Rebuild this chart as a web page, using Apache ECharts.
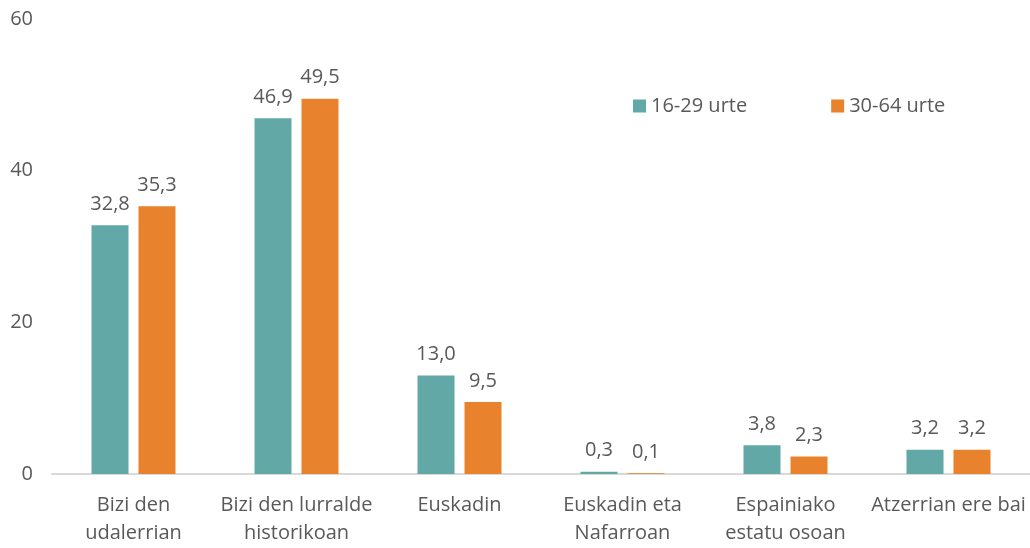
<!DOCTYPE html>
<html><head><meta charset="utf-8">
<script src="https://cdn.jsdelivr.net/npm/echarts@6/dist/echarts.min.js"></script>
<style>html,body{margin:0;padding:0;background:#fff}#c{width:1030px;height:548px}</style>
</head><body><div id="c"></div>
<script>
const categories = ['Bizi den\nudalerrian','Bizi den lurralde\nhistorikoan','Euskadin','Euskadin eta\nNafarroan','Espainiako\nestatu osoan','Atzerrian ere bai'];
const seriesNames = ['16-29 urte','30-64 urte'];
const young = [32.8, 46.9, 13.0, 0.3, 3.8, 3.2];
const adult = [35.3, 49.5, 9.5, 0.1, 2.3, 3.2];
const yTicks = [0, 20, 40, 60];

const font = 'Open Sans';
const txt = '#595959';
const fs = 20;
const chart = echarts.init(document.getElementById('c'));
const lbl = {show:true, position:'top', distance:11, color:txt, fontFamily:font, fontSize:fs,
  formatter: p => p.value.toFixed(1).replace('.', ',')};
chart.setOption({
  animation:false,
  grid:{left:52, right:0, top:19, bottom:74, containLabel:false},
  legend:{top:91, left:628, itemWidth:13, itemHeight:13, itemGap:84,
    textStyle:{color:txt, fontFamily:font, fontSize:fs}, icon:'rect', data:seriesNames},
  xAxis:{type:'category', data:categories,
    axisLine:{lineStyle:{color:'#d9d9d9', width:2}}, axisTick:{show:false},
    axisLabel:{color:txt, fontFamily:font, fontSize:fs, lineHeight:28, margin:17, interval:0}},
  yAxis:{type:'value', min:yTicks[0], max:yTicks[yTicks.length-1], interval:20,
    splitLine:{show:false}, axisLine:{show:false}, axisTick:{show:false},
    axisLabel:{color:txt, fontFamily:font, fontSize:fs, margin:19}},
  series:[
    {name:seriesNames[0], type:'bar', data:young, barWidth:37, barGap:'27%', itemStyle:{color:'#62A8A6'}, label:lbl},
    {name:seriesNames[1], type:'bar', data:adult, barWidth:37, itemStyle:{color:'#E9822C'}, label:lbl}
  ]
});
</script></body></html>
